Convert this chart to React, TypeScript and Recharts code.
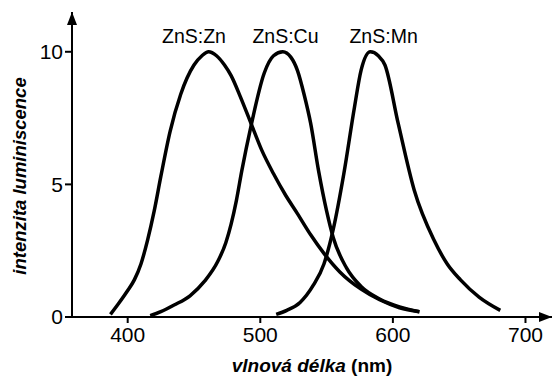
import { LineChart, Line, XAxis, YAxis, ReferenceDot } from "recharts";

const FONT = "Liberation Sans, Arial, sans-serif";

// wavelength (nm) / intensity readings per phosphor
const znZnWave = [387, 393, 400, 405, 410, 415, 420, 425, 432, 440, 450, 456, 461, 467, 473, 478, 485, 493, 501, 510, 519, 528, 538, 548, 560, 576, 590, 605, 620];
const znZnInt = [0.1, 0.5, 1.0, 1.4, 2.0, 2.9, 4.0, 5.3, 7.0, 8.4, 9.5, 9.85, 10, 9.85, 9.5, 9.1, 8.3, 7.3, 6.3, 5.4, 4.6, 3.9, 3.1, 2.4, 1.7, 1.05, 0.65, 0.35, 0.2];

const znCuWave = [417, 425, 435, 447, 458, 468, 474, 478, 482, 486, 493, 503, 510, 517, 523, 528, 533, 538, 544, 550, 555, 565, 576, 590, 605, 620];
const znCuInt = [0.05, 0.2, 0.45, 0.8, 1.35, 2.1, 2.8, 3.5, 4.4, 5.5, 7.2, 9.2, 9.85, 10, 9.8, 9.3, 8.4, 7.3, 5.5, 4.0, 3.0, 1.85, 1.15, 0.68, 0.38, 0.2];

const znMnWave = [512, 520, 530, 540, 548, 555, 563, 571, 576, 583, 589, 594, 604, 616, 631, 641, 651, 665, 681];
const znMnInt = [0.1, 0.25, 0.55, 1.2, 2.0, 3.3, 5.4, 7.9, 9.3, 10, 9.85, 9.5, 7.3, 4.8, 2.9, 2.0, 1.4, 0.75, 0.25];

const seriesNames = ["ZnS:Zn", "ZnS:Cu", "ZnS:Mn"];
const labelWave = [450, 519, 593];
const labelInt = [10.6, 10.6, 10.6];

const xTicks = [400, 500, 600, 700];
const yTicks = [0, 5, 10];

const toPoints = (wave: number[], vals: number[]) => wave.map((x, i) => ({ x, y: vals[i] }));

const series = [
  toPoints(znZnWave, znZnInt),
  toPoints(znCuWave, znCuInt),
  toPoints(znMnWave, znMnInt),
];

export default function App() {
  return (
    <div style={{ position: "absolute", left: 0, top: 0, width: 553, height: 376, background: "#fff" }}>
      <LineChart width={553} height={376} margin={{ top: 12, right: 1, bottom: 0, left: 0 }}>
        <defs>
          <marker
            id="axisArrow"
            viewBox="0 0 13 10"
            refX="13"
            refY="5"
            markerWidth="13"
            markerHeight="10"
            markerUnits="userSpaceOnUse"
            orient="auto-start-reverse"
          >
            <path d="M0,0 L13,5 L0,10 z" fill="#000" />
          </marker>
        </defs>
        <XAxis
          type="number"
          dataKey="x"
          domain={[358, 720]}
          ticks={xTicks}
          height={59}
          tickSize={6}
          tickMargin={4}
          axisLine={{ stroke: "#000", strokeWidth: 2, markerEnd: "url(#axisArrow)" }}
          tickLine={{ stroke: "#000", strokeWidth: 2 }}
          tick={{ fontSize: 21, fill: "#000", fontFamily: FONT }}
          allowDataOverflow
        />
        <YAxis
          type="number"
          dataKey="y"
          domain={[0, 11.5]}
          ticks={yTicks}
          width={72}
          tickSize={7}
          tickMargin={2}
          axisLine={{ stroke: "#000", strokeWidth: 2, markerStart: "url(#axisArrow)" }}
          tickLine={{ stroke: "#000", strokeWidth: 2 }}
          tick={{ fontSize: 21, fill: "#000", fontFamily: FONT }}
          allowDataOverflow
        />
        {series.map((pts, i) => (
          <Line
            key={seriesNames[i]}
            data={pts}
            dataKey="y"
            type="monotone"
            stroke="#000"
            strokeWidth={3.5}
            dot={false}
            activeDot={false}
            isAnimationActive={false}
          />
        ))}
        {seriesNames.map((name, i) => (
          <ReferenceDot
            key={name}
            x={labelWave[i]}
            y={labelInt[i]}
            r={0}
            fill="none"
            stroke="none"
            label={{ value: name, position: "center", fontSize: 19.5, fill: "#000", fontFamily: FONT }}
          />
        ))}
        <text
          x={19}
          y={176}
          transform="rotate(-90 19 176)"
          textAnchor="middle"
          dominantBaseline="central"
          fontFamily={FONT}
          fontSize={18.5}
          fontWeight="bold"
          fontStyle="italic"
          fill="#000"
        >
          intenzita luminiscence
        </text>
        <text x={312} y={372} textAnchor="middle" fontFamily={FONT} fontSize={19} fontWeight="bold" fill="#000">
          <tspan fontStyle="italic">vlnová délka</tspan> (nm)
        </text>
      </LineChart>
    </div>
  );
}
